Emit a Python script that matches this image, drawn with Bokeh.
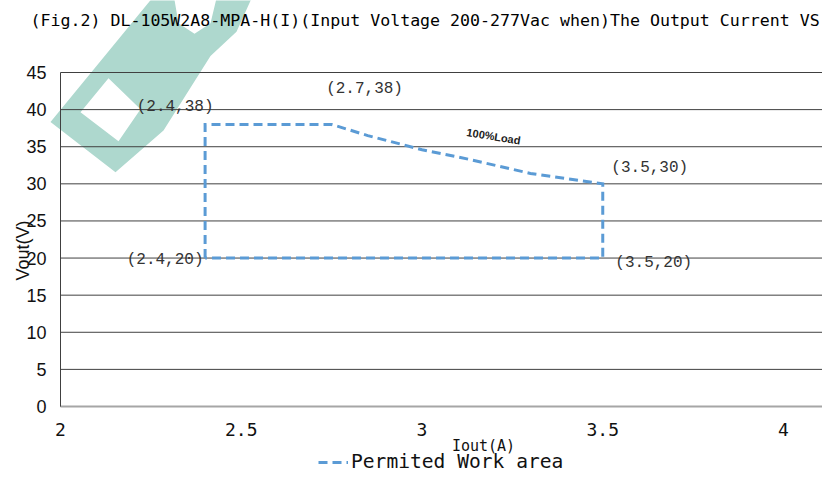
import math
from bokeh.plotting import figure
from bokeh.models import Range1d, FixedTicker, Label, Legend, LegendItem
from bokeh.embed import file_html
from bokeh.resources import INLINE

# ---------------- data ----------------
iout = [2.4, 2.4, 2.75, 2.85, 3.0, 3.13, 3.3, 3.5, 3.5, 2.4]
vout = [20, 38, 38, 36.5, 34.6, 33.3, 31.4, 30, 20, 20]
point_x = [2.4, 2.7, 3.5, 2.4, 3.5]
point_y = [38, 38, 30, 20, 20]
y_ticks = [0, 5, 10, 15, 20, 25, 30, 35, 40, 45]
x_ticks = [2, 2.5, 3, 3.5, 4]
x_tick_labels = ["2", "2.5", "3", "3.5", "4"]
title_text = "(Fig.2) DL-105W2A8-MPA-H(I)(Input Voltage 200-277Vac when)The Output Current VS"
series_name = "Permited Work area"
curve_label = "100%Load"
x_title = "Iout(A)"
y_title = "Vout(V)"

# ---------------- layout (canvas pixels) ----------------
W, H = 822, 474
AX_X0_PX = 60          # canvas x of Iout = 2
PPX = 361.5            # px per A
Y0_PX, Y45_PX = 406, 72
PPY = (Y0_PX - Y45_PX) / 45.0

def px_to_x(px):
    return 2 + (px - AX_X0_PX) / PPX

def py_to_y(py):
    return (Y0_PX - py) / PPY

X_START, X_END = px_to_x(0), px_to_x(W)
Y_START, Y_END = py_to_y(H), py_to_y(0)

BLUE = "#5b9bd5"
WM = "#aed8ce"

p = figure(width=W, height=H, output_backend="svg", toolbar_location=None,
           x_range=Range1d(X_START, X_END), y_range=Range1d(Y_START, Y_END),
           min_border=0)
p.outline_line_color = None
p.background_fill_color = "white"
p.border_fill_color = "white"
p.grid.visible = False

# axes placed at fixed data locations
p.yaxis.fixed_location = 2
p.yaxis.bounds = (0, 45)
p.yaxis.ticker = FixedTicker(ticks=y_ticks)
p.yaxis.axis_line_color = "#404040"
p.yaxis.axis_line_width = 1
p.yaxis.major_tick_line_color = None
p.yaxis.minor_tick_line_color = None
p.yaxis.major_tick_out = 0
p.yaxis.major_tick_in = 0
p.yaxis.major_label_standoff = 14
p.yaxis.major_label_text_font = "Liberation Sans"
p.yaxis.major_label_text_font_size = "18px"
p.yaxis.major_label_text_color = "#111111"

p.xaxis.fixed_location = 0
p.xaxis.bounds = (2, X_END)
p.xaxis.ticker = FixedTicker(ticks=x_ticks)
p.xaxis.major_label_overrides = {t: l for t, l in zip(x_ticks, x_tick_labels)}
p.xaxis.axis_line_color = "#a6a6a6"
p.xaxis.axis_line_width = 2
p.xaxis.major_tick_line_color = None
p.xaxis.minor_tick_line_color = None
p.xaxis.major_tick_out = 0
p.xaxis.major_tick_in = 0
p.xaxis.major_label_standoff = 16
p.xaxis.major_label_text_font = "DejaVu Sans Mono"
p.xaxis.major_label_text_font_size = "18px"
p.xaxis.major_label_text_color = "#111111"

# watermark (decorative), given in reference-image pixels
def ref_pt(px, py):
    return 2 + (px - 60) / 361.5, (422 - py) / 7.667

def conv(poly):
    pts = [ref_pt(*q) for q in poly]
    return [q[0] for q in pts], [q[1] for q in pts]

wm_outer = [(50, 128), (155, -4), (253, -4), (236, 35), (210, 60), (163, 137), (115, 180)]
wm_hole_d = [(80, 118), (108, 83), (140, 115), (118, 148)]
wm_hole_o = [(173, -4), (217, -4), (210, 26), (194, 37), (178, 26)]
ox, oy = conv(wm_outer)
h1x, h1y = conv(wm_hole_d)
h2x, h2y = conv(wm_hole_o)
p.multi_polygons(xs=[[[ox, h1x, h2x]]], ys=[[[oy, h1y, h2y]]],
                 fill_color=WM, line_color=None)

# horizontal grid lines between the y axis and the right edge
p.segment(x0=[2] * len(y_ticks), x1=[X_END] * len(y_ticks),
          y0=y_ticks, y1=y_ticks, line_color="#404040", line_width=1)

# data line
rline = p.line(iout, vout, line_color=BLUE, line_width=3, line_dash="9 5",
               line_cap="butt", line_join="miter")

# point labels (pixel offsets from the data point: +x right, +y down)
offsets = [(-30, -17), (51, -35), (47, -16), (-40, 2), (51, 5)]
for x, y, (dx, dy) in zip(point_x, point_y, offsets):
    txt = f"({x:g},{y:g})"
    p.add_layout(Label(x=x + dx / PPX, y=y - dy / PPY, text=txt,
                       text_font="Liberation Mono", text_font_size="16px",
                       text_color="#333333", text_align="center",
                       text_baseline="middle"))

# curve label
p.add_layout(Label(x=3.198, y=36.4, text=curve_label, angle=-0.16,
                   text_font="Liberation Sans", text_font_size="11px",
                   text_font_style="bold", text_color="#222222",
                   text_align="center", text_baseline="middle"))

# title
p.add_layout(Label(x=px_to_x(30), y=py_to_y(20), text=title_text,
                   text_font="DejaVu Sans Mono", text_font_size="16.6px",
                   text_color="#000000", text_align="left", text_baseline="middle"))

# axis titles
p.add_layout(Label(x=px_to_x(483), y=py_to_y(445), text=x_title,
                   text_font="DejaVu Sans Mono", text_font_size="15px",
                   text_color="#111111", text_align="center", text_baseline="middle"))
p.add_layout(Label(x=px_to_x(22), y=py_to_y(250), text=y_title, angle=math.pi / 2,
                   text_font="Liberation Sans", text_font_size="18px",
                   text_color="#111111", text_align="center",
                   text_baseline="middle"))

# legend
legend = Legend(items=[LegendItem(label=series_name, renderers=[rline])],
                location=(318, 1), padding=0, margin=0, spacing=0,
                label_standoff=3, glyph_width=30, glyph_height=20,
                label_text_font="DejaVu Sans Mono", label_text_font_size="19.6px",
                label_text_color="#111111", border_line_color=None,
                background_fill_alpha=0)
p.add_layout(legend, "center")

open("out.html", "w").write(file_html(p, INLINE))
